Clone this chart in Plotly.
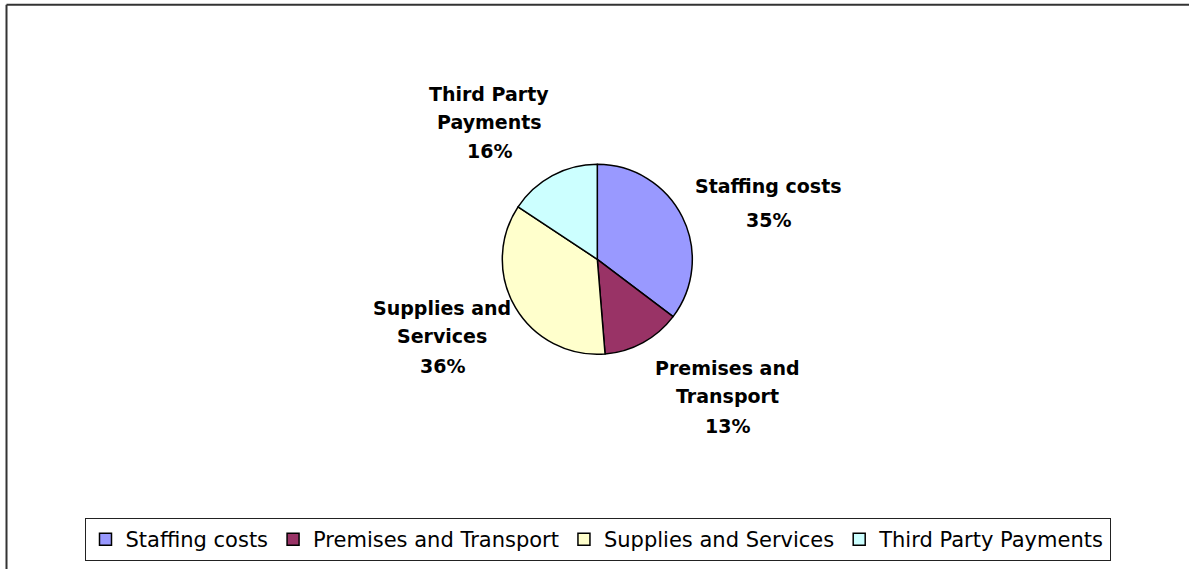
import plotly.graph_objects as go

# ---- data ----
categories = ["Staffing costs", "Premises and Transport", "Supplies and Services", "Third Party Payments"]
values = [35.3, 13.4, 35.6, 15.7]
colors = ["#9999FF", "#993366", "#FFFFCC", "#CCFFFF"]

# label lines (name split for wrapping) -- text content
label_lines = [["Staffing costs"], ["Premises and", "Transport"], ["Supplies and", "Services"], ["Third Party", "Payments"]]

# ---- layout helpers (pixel positions of label blocks) ----
W, H = 1189, 569
label_x = [768, 727, 442, 489]
label_line_y = [[185, 219], [367, 395, 425], [307, 335, 365], [93, 121, 150]]

total = sum(values)
pcts = [round(v / total * 100) for v in values]

fig = go.Figure()
fig.add_trace(go.Pie(
    labels=categories,
    values=values,
    sort=False,
    direction="clockwise",
    rotation=0,
    marker=dict(colors=colors, line=dict(color="#000000", width=1.5)),
    textinfo="none",
    hoverinfo="label+percent",
    domain=dict(x=[(597.3 - 95) / W, (597.3 + 95) / W], y=[(H - 259.3 - 95) / H, (H - 259.3 + 95) / H]),
))

annotations = []
for i, lines in enumerate(label_lines):
    texts = lines + [f"{pcts[i]}%"]
    for t, yy in zip(texts, label_line_y[i]):
        annotations.append(dict(
            x=label_x[i] / W, y=1 - (yy + 1) / H, xref="paper", yref="paper",
            text=f"<b>{t}</b>", showarrow=False, xanchor="center", yanchor="middle",
            font=dict(family="DejaVu Sans", size=19, color="#000000"),
        ))

shapes = [
    dict(type="line", xref="paper", yref="paper", x0=6.5 / W, x1=1.01, y0=1 - 4.7 / H, y1=1 - 4.7 / H,
         line=dict(color="#333333", width=2)),
    dict(type="line", xref="paper", yref="paper", x0=6.5 / W, x1=6.5 / W, y0=1 - 4.7 / H, y1=-0.01,
         line=dict(color="#333333", width=2)),
]

fig.update_layout(
    width=W, height=H,
    margin=dict(l=0, r=0, t=0, b=0),
    paper_bgcolor="#FFFFFF",
    plot_bgcolor="#FFFFFF",
    showlegend=True,
    legend=dict(
        orientation="h",
        x=597.5 / W, xanchor="center",
        y=1 - 518 / H, yanchor="top",
        bordercolor="#222222", borderwidth=1,
        font=dict(family="DejaVu Sans", size=21, color="#000000"),
        bgcolor="#FFFFFF",
        traceorder="normal",
    ),
    annotations=annotations,
    shapes=shapes,
)

fig.write_html("out.html")
